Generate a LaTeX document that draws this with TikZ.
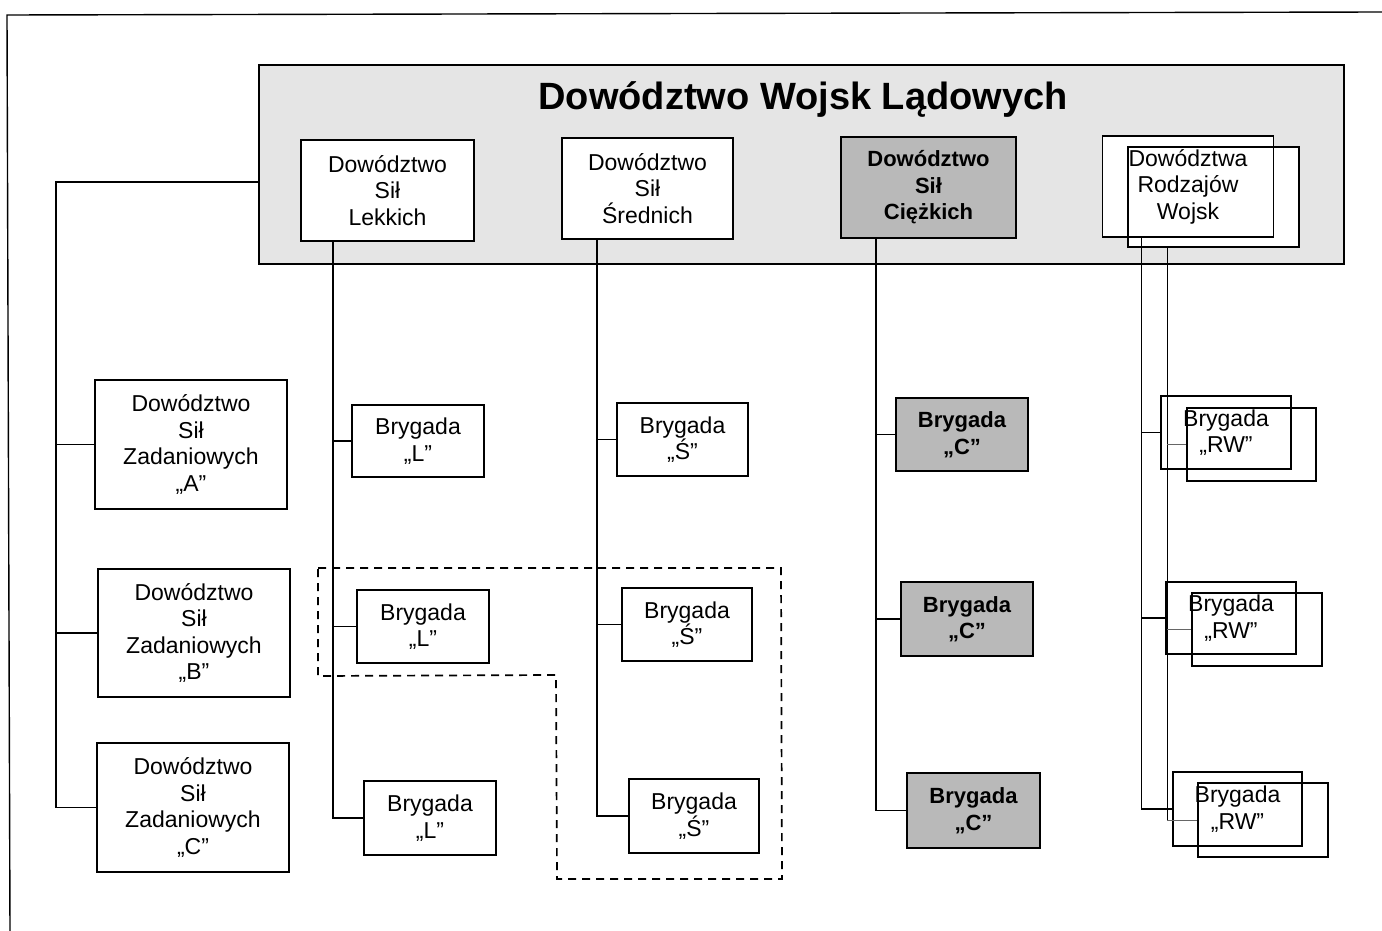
\documentclass[tikz,border=0pt]{standalone}
\usepackage{fontspec}
\setmainfont{Liberation Sans}
\usetikzlibrary{calc}
\begin{document}
\begin{tikzpicture}[x=1pt,y=-1pt,
  boxline/.style={draw=black,line width=1.8pt},
  box/.style={boxline,fill=white,inner sep=0pt,align=center,font=\fontsize{23}{26.5}\selectfont},
  hbox/.style={box,fill=gray!55,font=\fontsize{22}{26.5}\selectfont\bfseries},
  conn/.style={draw=black,line width=1.6pt},
  faint/.style={draw=black!60,line width=1pt},
  grp/.style={draw=black,line width=1.7pt,dash pattern=on 8pt off 6pt}]
\useasboundingbox (0,0) rectangle (1382,931);
% page frame
\draw[line width=1.4pt] (1382,12) -- (7,15) -- (10,931);
% main box
\node[boxline,fill=gray!20,minimum width=1085,minimum height=199,inner sep=0pt] (dwl) at (801.5,164.5) {};
\node[font=\fontsize{38}{40}\selectfont\bfseries] (title) at (803,100) {Dowództwo Wojsk Lądowych};
% top row
\node[box,minimum width=173,minimum height=101] (lek) at (387.5,190.5) {Dowództwo\\Sił\\Lekkich};
\node[box,minimum width=171,minimum height=101] (sre) at (647.5,188.5) {Dowództwo\\Sił\\Średnich};
\node[hbox,minimum width=175,minimum height=101] (cie) at (928.5,187.5) {Dowództwo\\Sił\\Ciężkich};
\node[fill=white,minimum width=170,minimum height=100,inner sep=0pt] (dwrf) at (1213.5,197) {};
\node[box,minimum width=171,minimum height=101] (dwr) at (1188,186.5) {Dowództwa\\Rodzajów\\Wojsk};
\draw[boxline] (dwrf.south west) rectangle (dwrf.north east);
% task force commands
\node[box,minimum width=192,minimum height=129] (za) at (191,444.5) {Dowództwo\\Sił\\Zadaniowych\\„A”};
\node[box,minimum width=192,minimum height=128] (zb) at (194,633) {Dowództwo\\Sił\\Zadaniowych\\„B”};
\node[box,minimum width=192,minimum height=129] (zc) at (193,807.5) {Dowództwo\\Sił\\Zadaniowych\\„C”};
% brigades L
\node[box,minimum width=132,minimum height=72] (l1) at (418,441) {Brygada\\„L”};
\node[box,minimum width=132,minimum height=73] (l2) at (423,626.5) {Brygada\\„L”};
\node[box,minimum width=132,minimum height=74] (l3) at (430,818) {Brygada\\„L”};
% brigades S
\node[box,minimum width=131,minimum height=73] (s1) at (682.5,439.5) {Brygada\\„Ś”};
\node[box,minimum width=130,minimum height=73] (s2) at (687,624.5) {Brygada\\„Ś”};
\node[box,minimum width=130,minimum height=74] (s3) at (694,816) {Brygada\\„Ś”};
% brigades C
\node[hbox,minimum width=132,minimum height=73] (c1) at (962,434.5) {Brygada\\„C”};
\node[hbox,minimum width=132,minimum height=74] (c2) at (967,619) {Brygada\\„C”};
\node[hbox,minimum width=133,minimum height=75] (c3) at (973.5,810.5) {Brygada\\„C”};
% brigades RW (back boxes with text, front boxes as outlines)
\node[box,minimum width=130,minimum height=73] (rw1) at (1226,432.5) {Brygada\\„RW”};
\node[inner sep=0pt,minimum width=129,minimum height=73] (rw1f) at (1251.5,444.5) {};
\node[box,minimum width=130,minimum height=72] (rw2) at (1231,618) {Brygada\\„RW”};
\node[inner sep=0pt,minimum width=130,minimum height=73] (rw2f) at (1257,629.5) {};
\node[box,minimum width=129,minimum height=74] (rw3) at (1237.5,809) {Brygada\\„RW”};
\node[inner sep=0pt,minimum width=130,minimum height=74] (rw3f) at (1263,820) {};
% trunks
\coordinate (zt) at ($(dwl.west)+(-202,17.5)$);
\coordinate (tl) at ($(lek.south west)+(33,0)$);
\coordinate (ts) at ($(sre.south west)+(36,0)$);
\coordinate (tc) at ($(cie.south west)+(36,0)$);
\coordinate (trl) at ($(dwr.south west)+(40,0)$);
\coordinate (trr) at ($(dwrf.south west)+(39,0)$);
\draw[conn] (dwl.west |- zt) -- (zt) |- (zc.west);
\draw[conn] (zt) |- (za.west);
\draw[conn] (zt) |- (zb.west);
\draw[conn] (tl) |- (l3.west);
\draw[conn] (tl) |- (l1.west);
\draw[conn] (tl) |- (l2.west);
\draw[conn] (ts) |- (s3.west);
\draw[conn] (ts) |- (s1.west);
\draw[conn] (ts) |- (s2.west);
\draw[conn] (tc) |- (c3.west);
\draw[conn] (tc) |- (c1.west);
\draw[conn] (tc) |- (c2.west);
\draw[conn] (trl) |- (rw3.west);
\draw[conn] (trl) |- (rw1.west);
\draw[conn] (trl) |- (rw2.west);
\draw[conn] (trr) -- (trr |- rw3f.west);
\draw[faint] (trr |- rw1f.west) -- (rw1f.west);
\draw[faint] (trr |- rw2f.west) -- (rw2f.west);
\draw[faint] (trr |- rw3f.west) -- (rw3f.west);
\draw[boxline] (rw1f.south west) rectangle (rw1f.north east);
\draw[boxline] (rw2f.south west) rectangle (rw2f.north east);
\draw[boxline] (rw3f.south west) rectangle (rw3f.north east);
% dashed grouping
\draw[grp] (318,568) -- (781,568) -- (782,879) -- (557,879) -- (556,675) -- (318,676) -- cycle;
\end{tikzpicture}
\end{document}
